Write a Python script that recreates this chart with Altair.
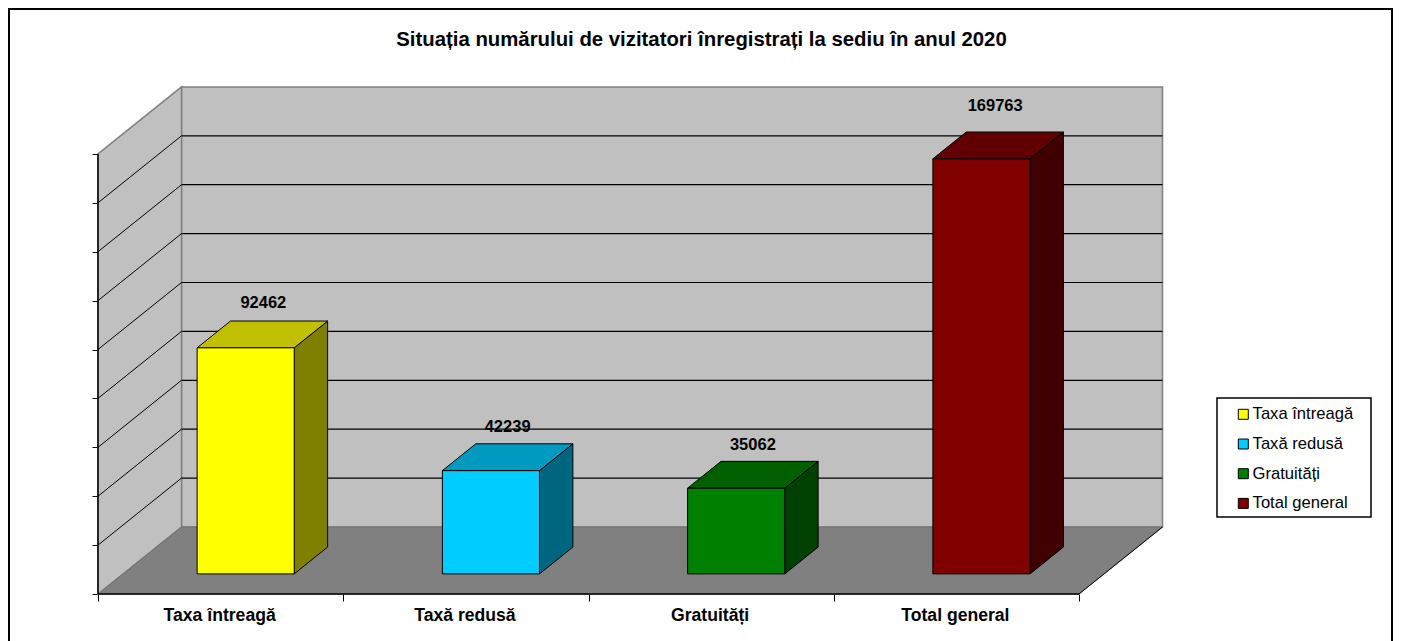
import altair as alt
import pandas as pd

# ---- values
categories = ["Taxa întreagă", "Taxă redusă", "Gratuități", "Total general"]
values = [92462, 42239, 35062, 169763]
front_colors = ["#FFFF00", "#00CCFF", "#008000", "#800000"]
side_colors = ["#808000", "#006680", "#004000", "#400000"]
top_colors = ["#C0C000", "#0099BF", "#006000", "#600000"]
y_ticks = [0, 20000, 40000, 60000, 80000, 100000, 120000, 140000, 160000, 180000]
x_ticks = [0, 1, 2, 3, 4]
title_text = "Situația numărului de vizitatori înregistrați la sediu în anul 2020"

# ---- layout
W, H = 1385, 633
PX_PER_CAT = 245.25
PX_PER_VAL = 48.9 / 20000
ORIGIN_X, ORIGIN_Y = 90, 586            # pixel position of (0, 0) in the view
DEPTH_X = 83.5 / PX_PER_CAT             # x units per full depth
DEPTH_Y = 67 / PX_PER_VAL               # value units per full depth
BAR_W = 0.396
D0, D1 = 0.30, 0.70
VMAX = 180000


def px(c, d=0.0):
    return c + d * DEPTH_X


def py(v, d=0.0):
    return v + d * DEPTH_Y


def x_at(pixel):
    return (pixel - ORIGIN_X) / PX_PER_CAT


def y_at(pixel):
    return (ORIGIN_Y - pixel) / PX_PER_VAL


x_scale = alt.Scale(domain=[x_at(0), x_at(W)], range=[0, W], nice=False, zero=False)
y_scale = alt.Scale(domain=[y_at(H), y_at(0)], range=[H, 0], nice=False, zero=False)
X = alt.X("x:Q", scale=x_scale, title=None, axis=None)
Y = alt.Y("y:Q", scale=y_scale, title=None, axis=None)
X2 = alt.X2("x2:Q")
Y2 = alt.Y2("y2:Q")
NCAT = len(categories)

# ---- chart border (open at the bottom, as in the reference)
border = [
    alt.Chart(pd.DataFrame({"k": [0]})).mark_rule(color="#000000", strokeWidth=2).encode(
        x=alt.value(1), y=alt.value(0), y2=alt.value(H)),
    alt.Chart(pd.DataFrame({"k": [0]})).mark_rule(color="#000000", strokeWidth=2).encode(
        x=alt.value(W - 1), y=alt.value(0), y2=alt.value(H)),
    alt.Chart(pd.DataFrame({"k": [0]})).mark_rule(color="#000000", strokeWidth=2).encode(
        y=alt.value(1), x=alt.value(0), x2=alt.value(W)),
]

# ---- walls and floor
back_wall = alt.Chart(pd.DataFrame([{"x": px(0, 1), "x2": px(NCAT, 1), "y": py(0, 1), "y2": py(VMAX, 1)}])).mark_rect(
    fill="#C0C0C0", stroke="#808080", strokeWidth=1.5
).encode(x=X, x2=X2, y=Y, y2=Y2)

left_wall = alt.Chart(pd.DataFrame([
    {"x": px(0, 0), "y": py(0, 0), "y2": py(VMAX, 0)},
    {"x": px(0, 1), "y": py(0, 1), "y2": py(VMAX, 1)},
])).mark_area(fill="#C0C0C0", stroke="#808080", strokeWidth=1.5, orient="vertical").encode(x=X, y=Y, y2=Y2)

floor = alt.Chart(pd.DataFrame([
    {"y": py(0, 0), "x": px(0, 0), "x2": px(NCAT, 0)},
    {"y": py(0, 1), "x": px(0, 1), "x2": px(NCAT, 1)},
])).mark_area(fill="#808080", stroke="#707070", strokeWidth=1, orient="horizontal").encode(x=X, x2=X2, y=Y)

# ---- gridlines
grid_vals = y_ticks[1:-1]
grid_back = alt.Chart(pd.DataFrame([
    {"x": px(0, 1), "x2": px(NCAT, 1), "y": py(v, 1)} for v in grid_vals
])).mark_rule(color="#000000", strokeWidth=1.2).encode(x=X, x2=X2, y=Y)

grid_side = alt.Chart(pd.DataFrame(
    [{"x": px(0, d), "y": py(v, d), "g": v} for v in grid_vals for d in (0, 1)]
)).mark_line(color="#000000", strokeWidth=1).encode(x=X, y=Y, detail="g:N")

floor_edge = alt.Chart(pd.DataFrame([
    {"x": px(NCAT, 0), "y": py(0, 0)},
    {"x": px(NCAT, 1), "y": py(0, 1)},
])).mark_line(color="#000000", strokeWidth=1).encode(x=X, y=Y)

# ---- axes: real ticks, lines drawn along the front edges
axis_ticks = alt.Chart(pd.DataFrame({"x": [0.0], "y": [0.0]})).mark_point(opacity=0).encode(
    x=alt.X("x:Q", scale=x_scale, title=None, axis=alt.Axis(
        values=x_ticks, labels=False, domain=False, grid=False, ticks=True, tickSize=7,
        tickColor="#000000", tickWidth=1, offset=ORIGIN_Y - H)),
    y=alt.Y("y:Q", scale=y_scale, title=None, axis=alt.Axis(
        values=y_ticks, labels=False, domain=False, grid=False, ticks=True, tickSize=6,
        tickColor="#000000", tickWidth=1, offset=-ORIGIN_X)),
)
axis_y_line = alt.Chart(pd.DataFrame({"x": [0.0], "y": [0.0], "y2": [float(VMAX)]})).mark_rule(
    color="#000000", strokeWidth=1.5).encode(x=X, y=Y, y2=Y2)
axis_x_line = alt.Chart(pd.DataFrame({"x": [0.0], "x2": [float(NCAT)], "y": [0.0]})).mark_rule(
    color="#000000", strokeWidth=1.5).encode(x=X, x2=X2, y=Y)

# ---- bars
gap = (1 - BAR_W) / 2
fronts, sides, tops = [], [], []
for i, (cat, v) in enumerate(zip(categories, values)):
    l, r = i + gap, i + gap + BAR_W
    fronts.append({"cat": cat, "x": px(l, D0), "x2": px(r, D0), "y": py(0, D0), "y2": py(v, D0)})
    sides += [
        {"cat": cat, "fill": side_colors[i], "x": px(r, D0), "y": py(0, D0), "y2": py(v, D0)},
        {"cat": cat, "fill": side_colors[i], "x": px(r, D1), "y": py(0, D1), "y2": py(v, D1)},
    ]
    tops += [
        {"cat": cat, "fill": top_colors[i], "y": py(v, D0), "x": px(l, D0), "x2": px(r, D0)},
        {"cat": cat, "fill": top_colors[i], "y": py(v, D1), "x": px(l, D1), "x2": px(r, D1)},
    ]

bar_side = alt.Chart(pd.DataFrame(sides)).mark_area(stroke="#000000", strokeWidth=1, orient="vertical").encode(
    x=X, y=Y, y2=Y2, fill=alt.Fill("fill:N", scale=None), detail="cat:N")
bar_top = alt.Chart(pd.DataFrame(tops)).mark_area(stroke="#000000", strokeWidth=1, orient="horizontal").encode(
    x=X, x2=X2, y=Y, fill=alt.Fill("fill:N", scale=None), detail="cat:N")
bar_front = alt.Chart(pd.DataFrame(fronts)).mark_rect(stroke="#000000", strokeWidth=1).encode(
    x=X, x2=X2, y=Y, y2=Y2,
    fill=alt.Fill("cat:N", scale=alt.Scale(domain=categories, range=front_colors), legend=alt.Legend(
        title=None, orient="none", legendX=1227, legendY=398, symbolType="square", symbolSize=100,
        symbolStrokeColor="#000000", symbolStrokeWidth=1, symbolOpacity=1,
        labelFont="Liberation Sans", labelFontSize=16.6, labelColor="#000000", labelLimit=200,
        labelOffset=1, rowPadding=12.7, padding=0,
    )),
)

# ---- legend box, drawn beneath the legend
legend_box = alt.Chart(pd.DataFrame([{
    "x": x_at(1209), "x2": x_at(1363), "y": y_at(390), "y2": y_at(509)
}])).mark_rect(fill="#FFFFFF", stroke="#000000", strokeWidth=1.5).encode(x=X, x2=X2, y=Y, y2=Y2)

# ---- value labels
label_dx = [0.004, 0.0, 0.0, -0.012]
label_lift = [18.5, 17, 16.5, 26.5]
value_labels = alt.Chart(pd.DataFrame([
    {"x": px(i + 0.5, 0.5) + label_dx[i], "y": py(v, D1) + label_lift[i] / PX_PER_VAL, "t": str(v)}
    for i, v in enumerate(values)
])).mark_text(font="Liberation Sans", fontSize=16.5, fontWeight="bold", color="#000000", baseline="middle").encode(
    x=X, y=Y, text="t:N")

cat_labels = alt.Chart(pd.DataFrame([
    {"x": i + 0.5 - 0.004, "y": -21.5 / PX_PER_VAL, "t": c} for i, c in enumerate(categories)
])).mark_text(font="Liberation Sans", fontSize=17.6, fontWeight="bold", color="#000000", baseline="middle").encode(
    x=X, y=Y, text="t:N")

title_mark = alt.Chart(pd.DataFrame([
    {"x": x_at(693.5), "y": y_at(32), "t": title_text}
])).mark_text(font="Liberation Sans", fontSize=20.35, fontWeight="bold", color="#000000", baseline="middle").encode(
    x=X, y=Y, text="t:N")

chart = alt.layer(
    *border, back_wall, left_wall, floor, grid_back, grid_side, floor_edge, axis_ticks, axis_y_line, axis_x_line,
    bar_side, bar_top, legend_box, bar_front, value_labels, cat_labels, title_mark,
).resolve_axis(x="independent", y="independent").properties(
    width=W, height=H, padding=0, background="#FFFFFF",
    autosize=alt.AutoSizeParams(type="none"),
).configure_view(strokeWidth=0)

chart.save("out.html", embed_options={"renderer": "svg", "actions": False})
